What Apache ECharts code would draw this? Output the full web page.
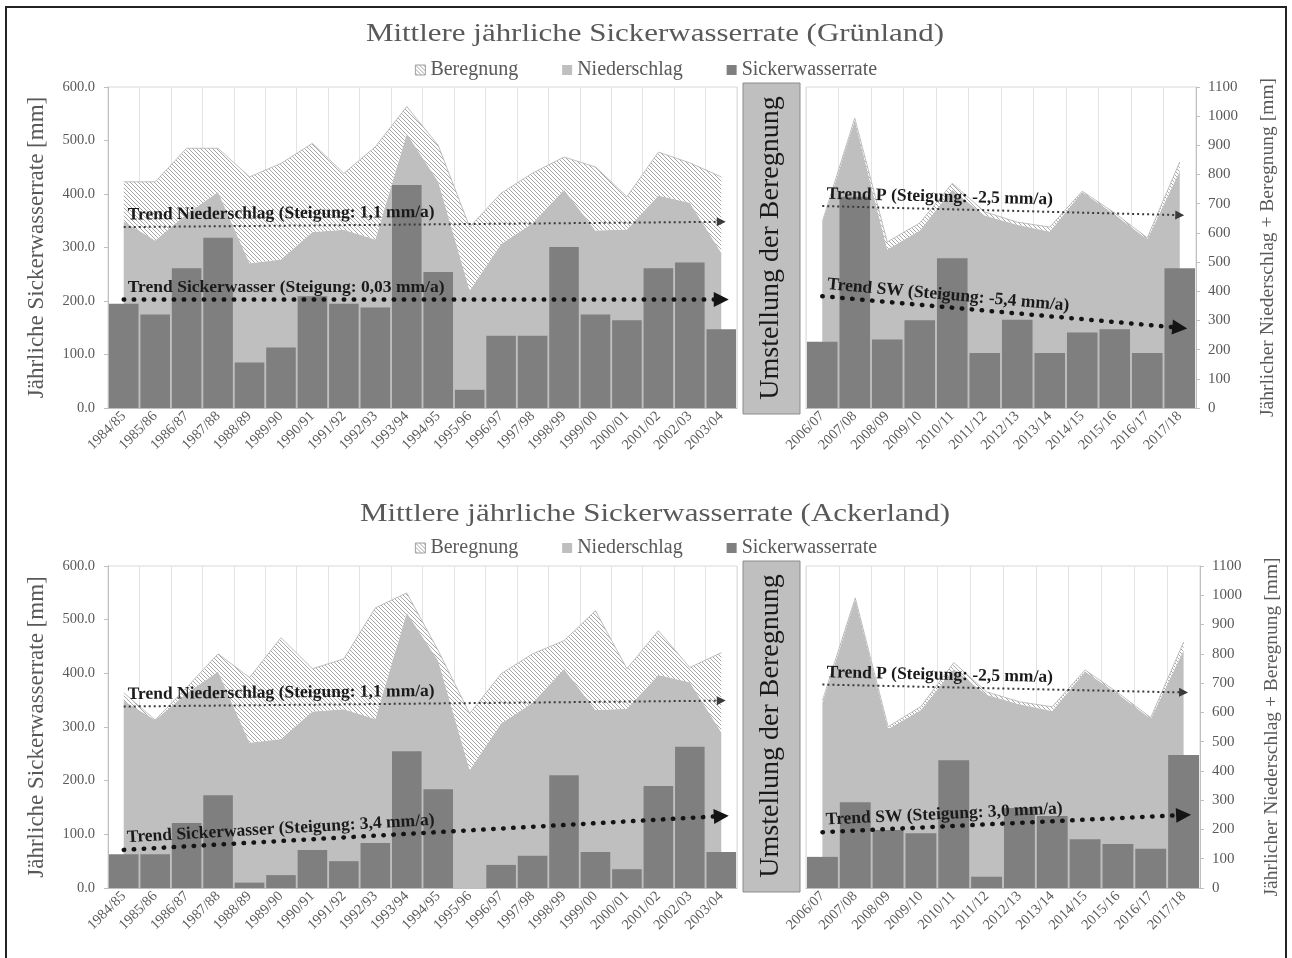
<!DOCTYPE html>
<html>
<head>
<meta charset="utf-8">
<title>Mittlere jährliche Sickerwasserrate</title>
<script src="https://cdn.jsdelivr.net/npm/echarts@6.0.0/dist/echarts.min.js"></script>
<style>
  html, body { margin: 0; padding: 0; background: #fff; }
  #chart { width: 1292px; height: 958px; }
</style>
</head>
<body>
<div id="chart"></div>
<script>
// categories
const yearsBefore = ['1984/85', '1985/86', '1986/87', '1987/88', '1988/89', '1989/90', '1990/91',
  '1991/92', '1992/93', '1993/94', '1994/95', '1995/96', '1996/97', '1997/98', '1998/99',
  '1999/00', '2000/01', '2001/02', '2002/03', '2003/04']
const yearsAfter = ['2006/07', '2007/08', '2008/09', '2009/10', '2010/11', '2011/12',
  '2012/13', '2013/14', '2014/15', '2015/16', '2016/17', '2017/18']

// Niederschlag [mm] (right axis)
const niederschlagBefore = [640, 574, 665, 740, 496, 509, 603, 611, 577, 940, 776, 403, 562, 633, 748, 608, 612, 728, 703, 532]
const niederschlagAfter = [632, 985, 543, 608, 748, 660, 628, 605, 740, 663, 578, 812]

// Beregnung [mm] (stacked on Niederschlag)
const beregnungGruenBefore = [135, 201, 225, 150, 296, 329, 304, 193, 318, 93, 124, 217, 174, 172, 112, 218, 112, 149, 137, 260]
const beregnungGruenAfter = [6, 8, 26, 26, 22, 12, 9, 15, 3, 5, 5, 31]
const beregnungAckerBefore = [27, 0, 20, 60, 223, 346, 146, 172, 380, 68, 35, 193, 170, 167, 97, 339, 137, 151, 50, 272]
const beregnungAckerAfter = [8, 6, 8, 12, 22, 10, 8, 14, 5, 4, 4, 28]

// Sickerwasserrate [mm] (left axis)
const sickerGruenBefore = [195, 175, 261, 318, 85, 113, 209, 195, 188, 417, 254, 34, 135, 135, 301, 175, 164, 261, 272, 147]
const sickerGruenAfter = [124, 395, 128, 164, 280, 103, 165, 103, 141, 147, 103, 261]
const sickerAckerBefore = [63, 63, 121, 173, 10, 24, 71, 50, 84, 255, 184, 0, 43, 60, 210, 67, 35, 190, 263, 67]
const sickerAckerAfter = [58, 160, 108, 102, 238, 21, 149, 134, 91, 82, 73, 248]

// trend lines: [start, end]
const trendPGruenBefore = [620, 638]
const trendSwGruenBefore = [203, 203]
const trendPGruenAfter = [692, 661]
const trendSwGruenAfter = [209, 150]
const trendPAckerBefore = [620, 640]
const trendSwAckerBefore = [71, 134]
const trendPAckerAfter = [695, 668]
const trendSwAckerAfter = [104, 136]

// axis ranges
const leftAxisMax = 600
const rightAxisMax = 1100

const serif = 'Liberation Serif'
const grey = '#595959'

// hatch pattern for Beregnung
const hatch = document.createElement('canvas')
hatch.width = 4
hatch.height = 4
const hc = hatch.getContext('2d')
hc.fillStyle = '#ffffff'
hc.fillRect(0, 0, 4, 4)
hc.strokeStyle = '#9c9c9c'
hc.lineWidth = 0.9
hc.beginPath()
hc.moveTo(-1, -1); hc.lineTo(5, 5)
hc.moveTo(-1, 3); hc.lineTo(1, 5)
hc.moveTo(3, -1); hc.lineTo(5, 1)
hc.stroke()
const hatchFill = { image: hatch, repeat: 'repeat' }

const panels = [
  { cats: yearsBefore, n: niederschlagBefore, b: beregnungGruenBefore, sw: sickerGruenBefore,
    tP: trendPGruenBefore, tSw: trendSwGruenBefore,
    lP: 'Trend Niederschlag (Steigung: 1,1 mm/a)', lSw: 'Trend Sickerwasser (Steigung: 0,03 mm/a)' },
  { cats: yearsAfter, n: niederschlagAfter, b: beregnungGruenAfter, sw: sickerGruenAfter,
    tP: trendPGruenAfter, tSw: trendSwGruenAfter,
    lP: 'Trend P (Steigung: -2,5 mm/a)', lSw: 'Trend SW (Steigung: -5,4 mm/a)' },
  { cats: yearsBefore, n: niederschlagBefore, b: beregnungAckerBefore, sw: sickerAckerBefore,
    tP: trendPAckerBefore, tSw: trendSwAckerBefore,
    lP: 'Trend Niederschlag (Steigung: 1,1 mm/a)', lSw: 'Trend Sickerwasser (Steigung: 3,4 mm/a)' },
  { cats: yearsAfter, n: niederschlagAfter, b: beregnungAckerAfter, sw: sickerAckerAfter,
    tP: trendPAckerAfter, tSw: trendSwAckerAfter,
    lP: 'Trend P (Steigung: -2,5 mm/a)', lSw: 'Trend SW (Steigung: 3,0 mm/a)' },
]

const grids = [
  { left: 108, top: 87, width: 629, height: 321 },
  { left: 806, top: 87, width: 390, height: 321 },
  { left: 108, top: 566, width: 629, height: 322 },
  { left: 806, top: 566, width: 394, height: 322 },
]

const xAxes = []
const yAxes = []
const series = []

function trendLabel(text) {
  return {
    show: true,
    formatter: text,
    position: 'insideStartTop',
    distance: [4, 3],
    fontFamily: serif,
    fontWeight: 'bold',
    fontSize: 17.5,
    color: '#1a1a1a',
  }
}

panels.forEach((p, i) => {
  const isLeftPart = i % 2 === 0
  const last = p.cats.length - 1

  xAxes.push({
    type: 'category',
    gridIndex: i,
    data: p.cats,
    boundaryGap: true,
    axisLine: { lineStyle: { color: '#bfbfbf' } },
    axisTick: { interval: 0, length: 5, lineStyle: { color: '#bfbfbf' } },
    axisLabel: { interval: 0, rotate: 45, margin: 6, fontFamily: serif, fontSize: 14.5, color: grey },
    splitLine: { show: true, interval: 0, lineStyle: { color: '#e3e3e3' } },
  })

  // left axis (Sickerwasserrate)
  yAxes.push({
    type: 'value',
    gridIndex: i,
    position: 'left',
    min: 0,
    max: leftAxisMax,
    interval: 100,
    show: isLeftPart,
    name: 'Jährliche Sickerwasserrate [mm]',
    nameLocation: 'middle',
    nameRotate: 90,
    nameGap: 60,
    nameTextStyle: { fontFamily: serif, fontSize: 23, color: grey },
    axisLine: { show: true, lineStyle: { color: '#bfbfbf' } },
    axisTick: { show: true, length: 4, lineStyle: { color: '#bfbfbf' } },
    axisLabel: { margin: 13, fontFamily: serif, fontSize: 14.5, color: grey,
      formatter: v => v.toFixed(1) },
    splitLine: { show: false },
  })

  // right axis (Niederschlag + Beregnung)
  yAxes.push({
    type: 'value',
    gridIndex: i,
    position: 'right',
    min: 0,
    max: rightAxisMax,
    interval: 100,
    show: !isLeftPart,
    name: 'Jährlicher Niederschlag + Beregnung [mm]',
    nameLocation: 'middle',
    nameRotate: 90,
    nameGap: 62,
    nameTextStyle: { fontFamily: serif, fontSize: 19.5, color: grey },
    axisLine: { show: true, lineStyle: { color: '#bfbfbf' } },
    axisTick: { show: true, length: 4, lineStyle: { color: '#bfbfbf' } },
    axisLabel: { margin: 12, fontFamily: serif, fontSize: 15, color: grey,
      formatter: v => String(v) },
    splitLine: { show: false },
  })

  series.push({
    name: 'Niederschlag',
    type: 'line',
    xAxisIndex: i,
    yAxisIndex: 2 * i + 1,
    stack: 'p' + i,
    data: p.n,
    symbol: 'none',
    lineStyle: { width: 0 },
    areaStyle: { color: '#bfbfbf', opacity: 1 },
    itemStyle: { color: '#bfbfbf' },
    z: 1,
    markLine: {
      silent: true,
      symbol: ['none', 'triangle'],
      symbolSize: 9,
      lineStyle: { color: '#3a3a3a', width: 2, type: [2, 3], opacity: 1 },
      label: trendLabel(p.lP),
      data: [[{ coord: [p.cats[0], p.tP[0]] }, { coord: [p.cats[last], p.tP[1]] }]],
    },
  })

  series.push({
    name: 'Beregnung',
    type: 'line',
    xAxisIndex: i,
    yAxisIndex: 2 * i + 1,
    stack: 'p' + i,
    data: p.b,
    symbol: 'none',
    lineStyle: { width: 0.8, color: '#b0b0b0' },
    areaStyle: { color: hatchFill, opacity: 1 },
    itemStyle: { color: hatchFill },
    z: 1,
  })

  series.push({
    name: 'Sickerwasserrate',
    type: 'bar',
    xAxisIndex: i,
    yAxisIndex: 2 * i,
    data: p.sw,
    barCategoryGap: '6%',
    itemStyle: { color: '#7f7f7f' },
    z: 2,
    markLine: {
      silent: true,
      symbol: ['none', 'triangle'],
      symbolSize: 15,
      lineStyle: { color: '#141414', width: 4.5, type: [0.5, 9.5], cap: 'round', opacity: 1 },
      label: trendLabel(p.lSw),
      data: [[{ coord: [p.cats[0], p.tSw[0]] }, { coord: [p.cats[last], p.tSw[1]] }]],
    },
  })
})

const legendItems = [
  { name: 'Beregnung', icon: 'rect', itemStyle: { color: hatchFill, borderColor: '#a0a0a0', borderWidth: 1 } },
  { name: 'Niederschlag', icon: 'rect' },
  { name: 'Sickerwasserrate', icon: 'rect' },
]
const legendBase = {
  left: 'center',
  data: legendItems,
  itemWidth: 10,
  itemHeight: 10,
  itemGap: 44,
  selectedMode: false,
  textStyle: { fontFamily: serif, fontSize: 20, color: grey },
}

function chartTitle(text, y) {
  return { type: 'text', x: 655, y: y, scaleX: 1.19,
    style: { text: text, font: '26px "Liberation Serif"', fill: grey,
      textAlign: 'center', textVerticalAlign: 'middle' } }
}

function separator(top) {
  return [
    { type: 'rect', shape: { x: 743, y: top, width: 57, height: 331 },
      style: { fill: '#bfbfbf', stroke: '#8c8c8c', lineWidth: 1 } },
    { type: 'text', x: 771, y: top + 165, rotation: Math.PI / 2,
      style: { text: 'Umstellung der Beregnung', font: '28px "Liberation Serif"', fill: '#1a1a1a',
        textAlign: 'center', textVerticalAlign: 'middle' } },
  ]
}

const chart = echarts.init(document.getElementById('chart'))
chart.setOption({
  animation: false,
  backgroundColor: '#ffffff',
  legend: [
    Object.assign({ top: 55 }, legendBase),
    Object.assign({ top: 533 }, legendBase),
  ],
  grid: grids.map(g => Object.assign({ show: true, borderColor: '#d9d9d9', borderWidth: 1 }, g)),
  xAxis: xAxes,
  yAxis: yAxes,
  series: series,
  graphic: [
    chartTitle('Mittlere jährliche Sickerwasserrate (Grünland)', 34),
    chartTitle('Mittlere jährliche Sickerwasserrate (Ackerland)', 514),
    ...separator(83),
    ...separator(561),
    { type: 'rect', shape: { x: 6, y: 7, width: 1280, height: 960 },
      style: { fill: null, stroke: '#222', lineWidth: 2 }, silent: true },
  ],
})
</script>
</body>
</html>
